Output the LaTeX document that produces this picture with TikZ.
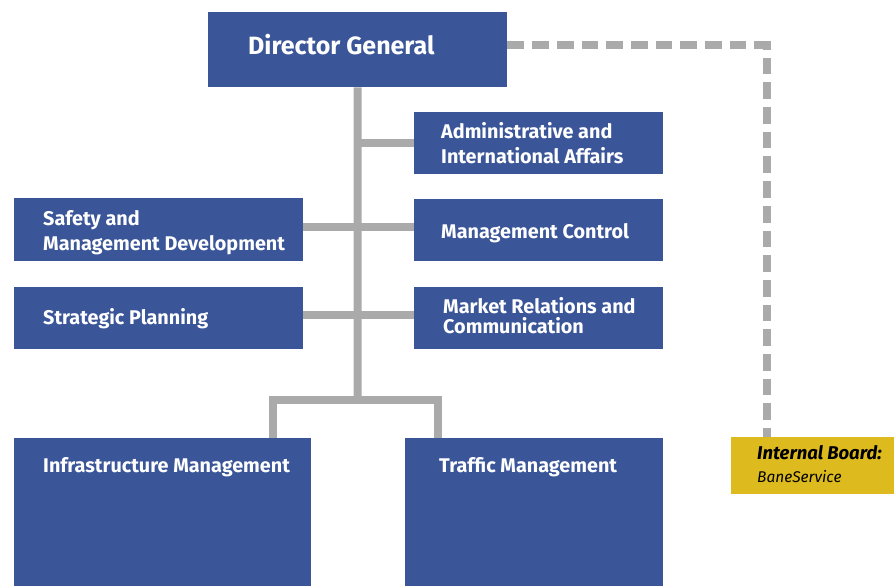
\documentclass[tikz,border=0pt]{standalone}
\usepackage{fontspec}
\setmainfont{Fira Sans}
\usetikzlibrary{calc}
\definecolor{orgblue}{RGB}{58,85,152}
\definecolor{linkgray}{RGB}{170,170,170}
\definecolor{boardgold}{RGB}{221,186,30}
\tikzset{
  unitbox/.style={fill=orgblue, inner sep=0pt, anchor=north west},
  boardbox/.style={fill=boardgold, inner sep=0pt, anchor=north west},
  lbl/.style={text=white, font=\bfseries\fontsize{19.8}{25}\selectfont, anchor=base west, inner sep=0pt, align=left},
  toplbl/.style={text=white, font=\bfseries\fontsize{25}{30}\selectfont, anchor=base west, inner sep=0pt},
  trunk/.style={draw=linkgray, line width=8pt, line join=miter, line cap=butt},
  dotted link/.style={draw=linkgray, line width=8pt, dash pattern=on 16.7pt off 8pt, line cap=butt}
}
\begin{document}
\begin{tikzpicture}[x=1pt,y=-1pt]
\useasboundingbox (0,0) rectangle (894,586);

% junction points of the reporting lines
\coordinate (split) at (357.5,400);
\coordinate (jl) at (273,400);
\coordinate (jr) at (438,400);
\coordinate (bend) at (767,45.5);

% organisational units
\node[unitbox, minimum width=299, minimum height=75] (dg) at (208,12) {};
\node[unitbox, minimum width=249, minimum height=62] (admin) at (414,112) {};
\node[unitbox, minimum width=289, minimum height=63] (safety) at (14,198) {};
\node[unitbox, minimum width=249, minimum height=62] (mctrl) at (414,199) {};
\node[unitbox, minimum width=289, minimum height=62] (strat) at (14,287) {};
\node[unitbox, minimum width=249, minimum height=62] (market) at (414,287) {};
\node[unitbox, minimum width=297, minimum height=150] (infra) at (14,438) {};
\node[unitbox, minimum width=258, minimum height=150] (traffic) at (405,438) {};
\node[boardbox, minimum width=163, minimum height=57] (board) at (731,437) {};

% solid reporting lines
\draw[trunk] (dg.south) -- (split);
\draw[trunk] (dg.south |- admin.west) -- (admin.west);
\draw[trunk] (safety.east |- 0,227) -- (mctrl.west |- 0,227);
\draw[trunk] (strat.east |- 0,315) -- (market.west |- 0,315);
\draw[trunk] (jl |- infra.north) -- (jl) -- (jr) -- (jr |- traffic.north);

% dashed line to the internal board
\draw[dotted link] (dg.east |- bend) -- (bend) -- (bend |- board.north);

% labels (base of the last line given)
\node[toplbl] (tdg) at (248,55) {Director General};
\node[lbl] (tadmin) at (441,163) {Administrative and\\International Affairs};
\node[lbl] (tsafety) at (43,250) {Safety and\\Management Development};
\node[lbl] (tmctrl) at (441,238) {Management Control};
\node[lbl] (tstrat) at (43,324) {Strategic Planning};
\node[lbl, font=\bfseries\fontsize{19.8}{20}\selectfont] (tmarket) at (443,333) {Market Relations and\\Communication};
\node[lbl] (tinfra) at (43,472) {Infrastructure Management};
\node[lbl] (ttraffic) at (439,472) {Traffic Management};
\node[anchor=base west, inner sep=0pt, align=left, font=\fontsize{15.5}{23}\selectfont] (tboard) at (757,482)
  {{\fontsize{18.5}{23}\selectfont\textbf{\textit{Internal Board:}}}\\\textit{BaneService}};
\end{tikzpicture}
\end{document}
